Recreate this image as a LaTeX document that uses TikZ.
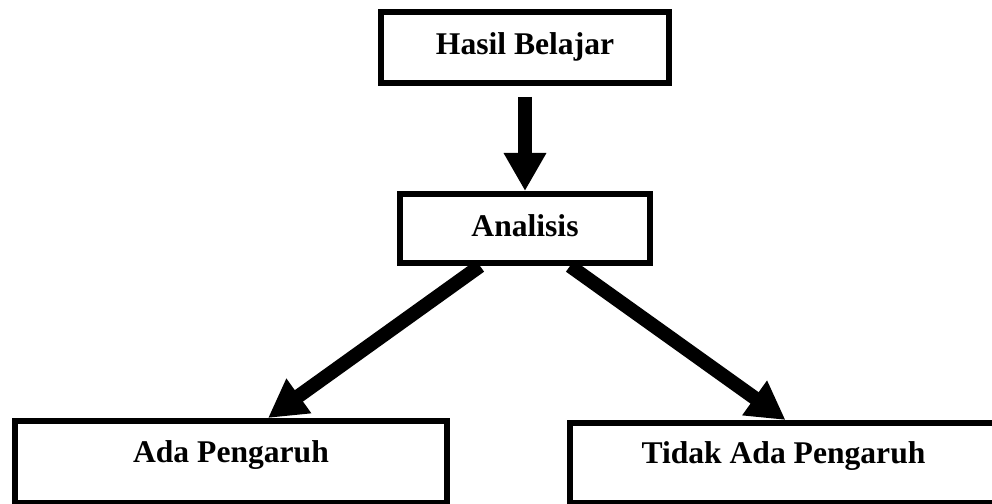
\documentclass[tikz,border=0pt]{standalone}
\usepackage{fontspec}
\setmainfont{Liberation Serif}
\usetikzlibrary{arrows.meta}

\begin{document}
\begin{tikzpicture}[x=1pt,y=1pt,
  every node/.style={draw,rectangle,line width=3pt,inner sep=0pt,
    font=\fontsize{15.8}{18}\selectfont\bfseries,text height=10.8pt},
  panah/.style={line width=7pt,-{Triangle[length=19pt,width=20pt]}}]
\useasboundingbox (0,0) rectangle (496,252);

\node[minimum width=144pt,minimum height=35.5pt,text depth=4pt] (hasil) at (262.5,228.25) {Hasil Belajar};
\node[minimum width=125pt,minimum height=34.5pt,text depth=2.3pt] (ana) at (262.5,137.75) {Analisis};
\node[minimum width=216pt,minimum height=41pt,text depth=9.8pt] (ada) at (115.5,21) {Ada Pengaruh};
\node[minimum width=213.5pt,minimum height=40pt,text depth=10.5pt] (tdk) at (391.75,20.5) {Tidak Ada Pengaruh};

\draw[panah,shorten <=5.5pt] (hasil.south) -- (ana.north);
\draw[panah] ([xshift=-22.5pt]ana.south) -- ([xshift=18.5pt]ada.north);
\draw[panah] ([xshift=22.5pt]ana.south) -- ([xshift=1pt]tdk.north);
\end{tikzpicture}
\end{document}
